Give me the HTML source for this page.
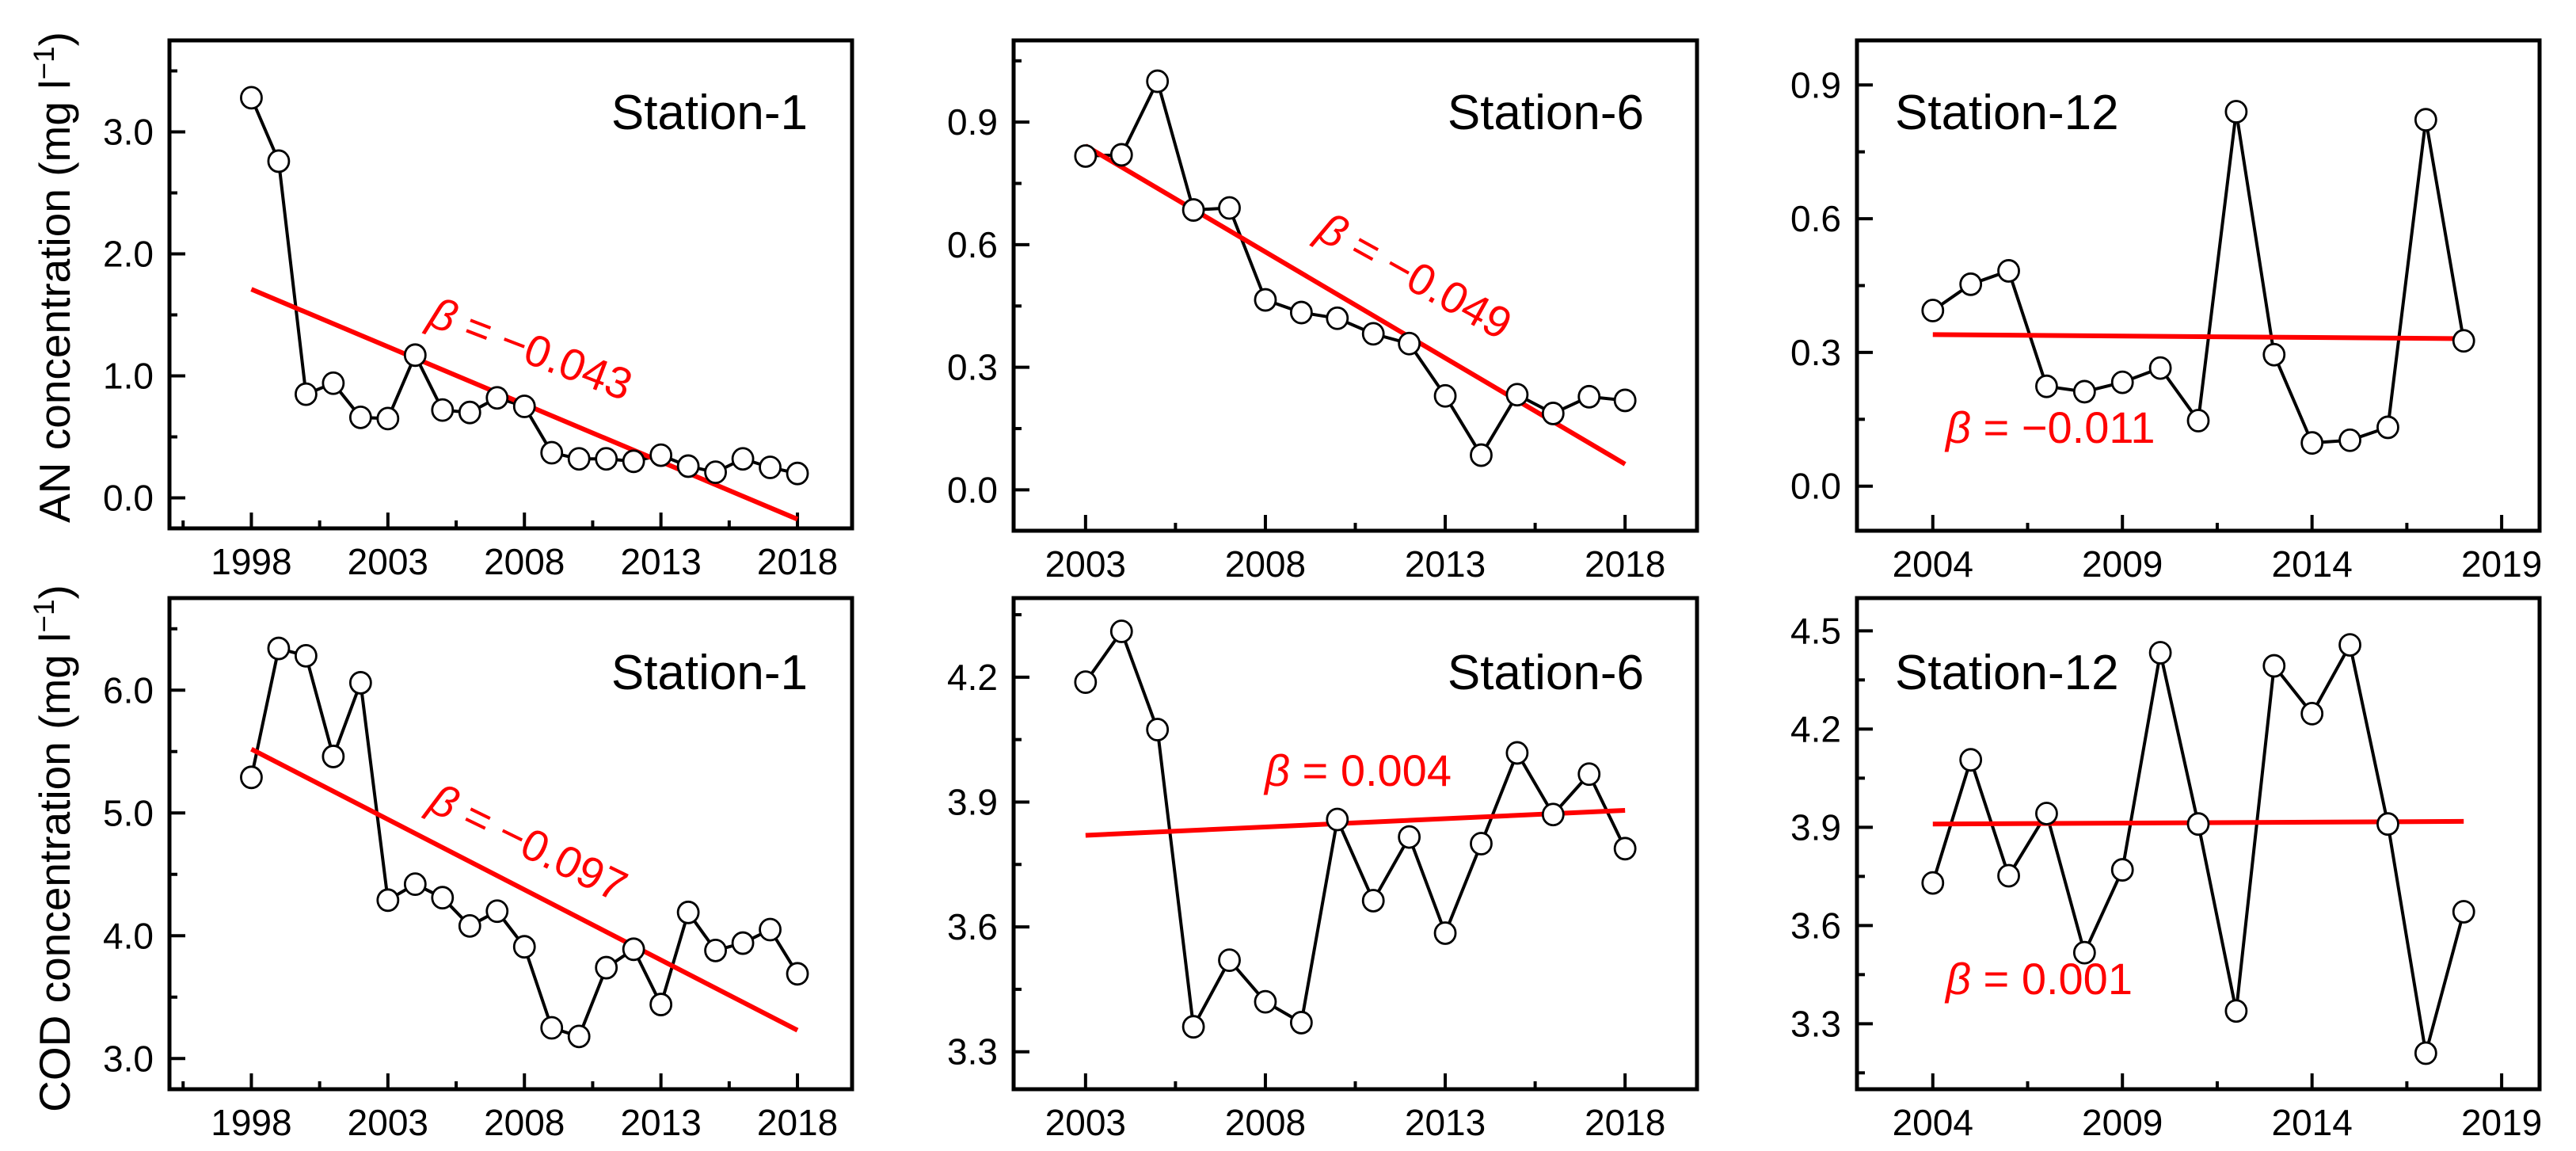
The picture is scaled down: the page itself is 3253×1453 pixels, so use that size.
<!DOCTYPE html>
<html><head><meta charset="utf-8">
<style>
html,body{margin:0;padding:0;background:#fff;}
svg{display:block;font-family:"Liberation Sans",Arial,sans-serif;}
</style></head>
<body>
<svg id="fig" width="3253" height="1453" viewBox="0 0 3253 1453" xmlns="http://www.w3.org/2000/svg">
<rect width="3253" height="1453" fill="#fff"/>
<text transform="translate(88,350) rotate(-90)" text-anchor="middle" font-size="55">AN concentration (mg l<tspan dy="-20" font-size="37">−1</tspan><tspan dy="20">)</tspan></text>
<text transform="translate(88,1071) rotate(-90)" text-anchor="middle" font-size="55">COD concentration (mg l<tspan dy="-20" font-size="37">−1</tspan><tspan dy="20">)</tspan></text>
</svg>
<script>
// ---- data arrays ----
const anSt1Years = [1998,1999,2000,2001,2002,2003,2004,2005,2006,2007,2008,2009,2010,2011,2012,2013,2014,2015,2016,2017,2018];
const anSt1Values = [3.28,2.76,0.85,0.94,0.66,0.65,1.17,0.72,0.70,0.82,0.75,0.37,0.32,0.32,0.30,0.35,0.26,0.21,0.32,0.25,0.20];
const anSt1Trend = [1.71,-0.175];
const anSt6Years = [2003,2004,2005,2006,2007,2008,2009,2010,2011,2012,2013,2014,2015,2016,2017,2018];
const anSt6Values = [0.817,0.82,1.0,0.685,0.69,0.465,0.434,0.42,0.382,0.358,0.23,0.085,0.233,0.187,0.228,0.219];
const anSt6Trend = [0.842,0.063];
const anSt12Years = [2004,2005,2006,2007,2008,2009,2010,2011,2012,2013,2014,2015,2016,2017,2018];
const anSt12Values = [0.394,0.453,0.483,0.224,0.212,0.233,0.265,0.147,0.84,0.295,0.097,0.103,0.132,0.822,0.326];
const anSt12Trend = [0.34,0.331];
const codSt1Years = anSt1Years;
const codSt1Values = [5.29,6.34,6.28,5.46,6.06,4.29,4.42,4.31,4.08,4.20,3.91,3.25,3.18,3.74,3.89,3.44,4.19,3.88,3.94,4.05,3.69];
const codSt1Trend = [5.52,3.23];
const codSt6Years = anSt6Years;
const codSt6Values = [4.188,4.31,4.074,3.36,3.52,3.42,3.37,3.858,3.663,3.816,3.585,3.80,4.018,3.87,3.967,3.788];
const codSt6Trend = [3.82,3.88];
const codSt12Years = anSt12Years;
const codSt12Values = [3.73,4.106,3.752,3.942,3.517,3.77,4.433,3.91,3.339,4.393,4.247,4.457,3.91,3.21,3.642];
const codSt12Trend = [3.91,3.918];
const yTicksSt1An = ["0.0","1.0","2.0","3.0"];
const yTicksAn = ["0.0","0.3","0.6","0.9"];
const yTicksSt1Cod = ["3.0","4.0","5.0","6.0"];
const yTicksSt6Cod = ["3.3","3.6","3.9","4.2"];
const yTicksSt12Cod = ["3.3","3.6","3.9","4.2","4.5"];
const xTicksSt1 = [1998,2003,2008,2013,2018];
const xTicksSt6 = [2003,2008,2013,2018];
const xTicksSt12 = [2004,2009,2014,2019];
const betaLabels = ["−0.043","−0.049","−0.011","−0.097","0.004","0.001"];
const stationNames = ["Station-1","Station-6","Station-12","Station-1","Station-6","Station-12"];

const NS="http://www.w3.org/2000/svg";
const svg=document.getElementById('fig');
function mk(tag,attrs,parent){const e=document.createElementNS(NS,tag);for(const k in attrs)e.setAttribute(k,attrs[k]);(parent||svg).appendChild(e);return e;}

const panels=[
 {id:'an-st1',L:214,R:1076,T:51,B:667,x0:1995,x1:2020,y0:-0.25,y1:3.75,years:anSt1Years,vals:anSt1Values,trend:anSt1Trend,yt:yTicksSt1An,ystep:0.5,xt:xTicksSt1,
  st:{x:1020,y:163,anchor:'end'},beta:{x:538,y:410,rot:21}},
 {id:'an-st6',L:1280,R:2143,T:51,B:670,x0:2001,x1:2020,y0:-0.1,y1:1.1,years:anSt6Years,vals:anSt6Values,trend:anSt6Trend,yt:yTicksAn,ystep:0.15,xt:xTicksSt6,
  st:{x:2076,y:163,anchor:'end'},beta:{x:1660,y:300,rot:29}},
 {id:'an-st12',L:2345,R:3207,T:51,B:670,x0:2002,x1:2020,y0:-0.1,y1:1.0,years:anSt12Years,vals:anSt12Values,trend:anSt12Trend,yt:yTicksAn,ystep:0.15,xt:xTicksSt12,
  st:{x:2393,y:163,anchor:'start'},beta:{x:2457,y:559,rot:0}},
 {id:'cod-st1',L:214,R:1076,T:755,B:1375,x0:1995,x1:2020,y0:2.75,y1:6.75,years:codSt1Years,vals:codSt1Values,trend:codSt1Trend,yt:yTicksSt1Cod,ystep:0.5,xt:xTicksSt1,
  st:{x:1020,y:870,anchor:'end'},beta:{x:538,y:1022,rot:26}},
 {id:'cod-st6',L:1280,R:2143,T:755,B:1375,x0:2001,x1:2020,y0:3.21,y1:4.39,years:codSt6Years,vals:codSt6Values,trend:codSt6Trend,yt:yTicksSt6Cod,ystep:0.15,xt:xTicksSt6,
  st:{x:2076,y:870,anchor:'end'},beta:{x:1597,y:992,rot:0}},
 {id:'cod-st12',L:2345,R:3207,T:755,B:1375,x0:2002,x1:2020,y0:3.1,y1:4.6,years:codSt12Years,vals:codSt12Values,trend:codSt12Trend,yt:yTicksSt12Cod,ystep:0.15,xt:xTicksSt12,
  st:{x:2393,y:870,anchor:'start'},beta:{x:2457,y:1255,rot:0}}
];

panels.forEach((p,i)=>{
  const g=mk('g',{});
  
  
  const sx=v=>p.L+(v-p.x0)/(p.x1-p.x0)*(p.R-p.L);
  const sy=v=>p.B-(v-p.y0)/(p.y1-p.y0)*(p.B-p.T);
  const ymaj=p.yt.map(Number);
  const base=ymaj[0];
  for(let k=-4;k<40;k++){
    const v=+(base+k*p.ystep).toFixed(4);
    if(v<=p.y0||v>=p.y1) continue;
    const y=sy(v);
    const isMaj=ymaj.some(m=>Math.abs(m-v)<1e-6);
    const t=mk('line',{x1:p.L,x2:p.L+(isMaj?20:10),y1:y,y2:y,stroke:'#000','stroke-width':4},g);
    
    
  }
  p.yt.forEach(lbl=>{
    const t=mk('text',{x:p.L-20,y:sy(Number(lbl))+16,'text-anchor':'end','font-size':46},g);
    t.textContent=lbl;
    
    
  });
  for(let k=-4;k<20;k++){
    const v=p.xt[0]+k*2.5;
    if(v<=p.x0||v>=p.x1) continue;
    const x=sx(v);
    const isMaj=(k%2===0);
    const t=mk('line',{x1:x,x2:x,y1:p.B,y2:p.B-(isMaj?20:10),stroke:'#000','stroke-width':4},g);
    
    
  }
  p.xt.forEach(yr=>{
    const t=mk('text',{x:sx(yr),y:p.B+58,'text-anchor':'middle','font-size':46},g);
    t.textContent=yr;
    
    
  });
  const pts=p.years.map((yr,j)=>sx(yr)+','+sy(p.vals[j])).join(' ');
  const pl=mk('polyline',{points:pts,fill:'none',stroke:'#000','stroke-width':4},g);
  
  
  const yrs=p.years;
  const tl=mk('line',{x1:sx(yrs[0]),y1:sy(p.trend[0]),x2:sx(yrs[yrs.length-1]),y2:sy(p.trend[1]),stroke:'#ff0000','stroke-width':6},g);
  
  
  p.years.forEach((yr,j)=>{
    const c=mk('ellipse',{cx:sx(yr),cy:sy(p.vals[j]),rx:13,ry:13.5,fill:'#fff',stroke:'#000','stroke-width':2.8},g);
    
    
  });
  const fr=mk('rect',{x:p.L,y:p.T,width:p.R-p.L,height:p.B-p.T,fill:'none',stroke:'#000','stroke-width':5},g);
  
  
  const st=mk('text',{x:p.st.x,y:p.st.y,'text-anchor':p.st.anchor,'font-size':62},g);
  st.textContent=stationNames[i];
  
  
  const bt=mk('text',{x:p.beta.x,y:p.beta.y,'font-size':56,fill:'#ff0000',transform:'rotate('+p.beta.rot+' '+p.beta.x+' '+p.beta.y+')'},g);
  const b1=mk('tspan',{'font-style':'italic'},bt); b1.textContent='β';
  const b2=mk('tspan',{},bt); b2.textContent=' = '+betaLabels[i];
  
  
});
</script>
</body></html>
